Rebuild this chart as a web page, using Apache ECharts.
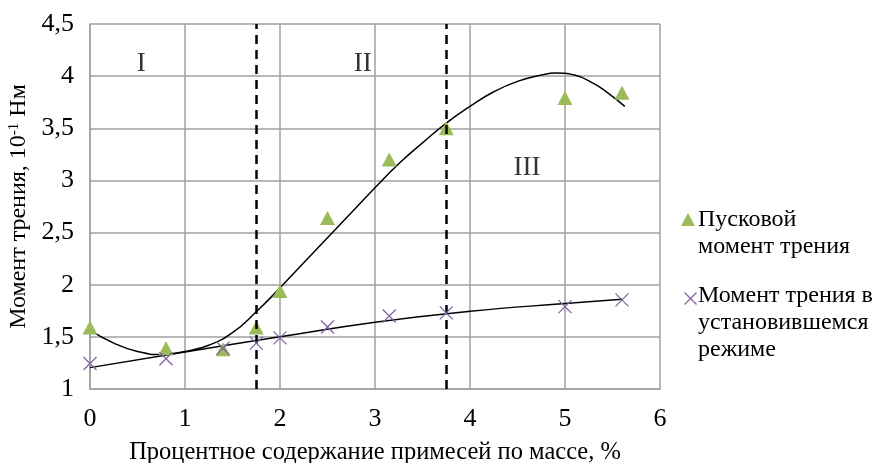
<!DOCTYPE html>
<html>
<head>
<meta charset="utf-8">
<script src="https://cdn.jsdelivr.net/npm/echarts@6/dist/echarts.min.js"></script>
<style>
  html, body { margin: 0; padding: 0; background: #fff; }
  #chart { width: 878px; height: 463px; }
</style>
</head>
<body>
<div id="chart"></div>
<script>
// measured points
const xs = [0, 0.8, 1.4, 1.75, 2, 2.5, 3.15, 3.75, 5, 5.6]
const startTorque = [1.59, 1.39, 1.38, 1.59, 1.94, 2.64, 3.2, 3.5, 3.79, 3.84]
const steadyTorque = [1.245, 1.29, 1.39, 1.44, 1.49, 1.595, 1.70, 1.73, 1.79, 1.855]

// trend lines
const startTrendX = [0, 0.25, 0.5, 0.75, 1, 1.25, 1.5, 1.75, 2, 2.25, 2.5, 2.75, 3, 3.25, 3.5, 3.75, 4, 4.25, 4.5, 4.75, 4.9, 5.1, 5.3, 5.45, 5.63]
const startTrendY = [1.565, 1.44, 1.36, 1.33, 1.36, 1.42, 1.54, 1.74, 1.97, 2.21, 2.45, 2.69, 2.93, 3.16, 3.36, 3.55, 3.71, 3.85, 3.95, 4.01, 4.03, 4.01, 3.93, 3.84, 3.71]
const steadyTrendX = [0, 1, 2, 3, 4, 5, 5.6]
const steadyTrendY = [1.205, 1.355, 1.5, 1.64, 1.745, 1.82, 1.86]

// zone borders and zone names
const zoneBorders = [1.75, 3.75]
const zoneLabels = [[0.54, 4.12, 'I'], [2.87, 4.12, 'II'], [4.6, 3.12, 'III']]

const legendNames = ['Пусковой\nмомент трения', 'Момент трения в\nустановившемся\nрежиме']

const FONT = '"Liberation Serif", "DejaVu Serif", serif'
const GREEN = '#9BBB59'
const PURPLE = '#8064A2'
const GRID = '#a0a0a0'

const pairs = (a, b) => a.map((v, i) => [v, b[i]])

const chart = echarts.init(document.getElementById('chart'))

chart.setOption({
  backgroundColor: '#fff',
  animation: false,
  textStyle: { fontFamily: FONT },
  grid: { left: 90, right: 218, top: 24, bottom: 74, containLabel: false, outerBoundsMode: 'none' },
  xAxis: {
    type: 'value', min: 0, max: 6, interval: 1,
    name: 'Процентное содержание примесей по массе, %',
    nameLocation: 'middle', nameGap: 51,
    nameTextStyle: { fontFamily: FONT, fontSize: 24.5, color: '#000' },
    axisLine: { show: true, lineStyle: { color: GRID, width: 1.5 } },
    axisTick: { show: false },
    axisLabel: { fontFamily: FONT, fontSize: 26, color: '#000', margin: 17 },
    splitLine: { show: true, lineStyle: { color: GRID, width: 1.5 } },
  },
  yAxis: {
    type: 'value', min: 1, max: 4.5, interval: 0.5,
    name: 'Момент трения, 10{sup|-1} Нм',
    nameLocation: 'middle', nameGap: 58,
    nameTextStyle: {
      fontFamily: FONT, fontSize: 24, color: '#000',
      rich: { sup: { fontFamily: FONT, fontSize: 15, color: '#000', verticalAlign: 'top' } },
    },
    axisLine: { show: true, lineStyle: { color: GRID, width: 1.5 } },
    axisTick: { show: false },
    axisLabel: {
      fontFamily: FONT, fontSize: 26, color: '#000', margin: 16,
      formatter: v => String(v).replace('.', ','),
    },
    splitLine: { show: true, lineStyle: { color: GRID, width: 1.5 } },
  },
  series: [
    {
      name: 'trendStart', type: 'line', smooth: true, showSymbol: false, silent: true,
      data: pairs(startTrendX, startTrendY),
      lineStyle: { color: '#000', width: 1.5 },
      z: 3,
      markLine: {
        silent: true, symbol: 'none', label: { show: false },
        lineStyle: { color: '#000', width: 2.5, type: [9, 6] },
        data: zoneBorders.map(x => ({ xAxis: x })),
      },
    },
    {
      name: 'trendSteady', type: 'line', smooth: true, showSymbol: false, silent: true,
      data: pairs(steadyTrendX, steadyTrendY),
      lineStyle: { color: '#000', width: 1.5 },
      z: 3,
    },
    {
      name: legendNames[0], type: 'scatter', symbol: 'triangle', symbolSize: [15, 14],
      data: pairs(xs, startTorque),
      itemStyle: { color: GREEN, opacity: 1 },
      z: 4,
    },
    {
      name: legendNames[1], type: 'scatter', symbol: 'path://M0,0L10,10M10,0L0,10', symbolSize: 13,
      data: pairs(xs, steadyTorque),
      itemStyle: { color: 'none', borderColor: PURPLE, borderWidth: 1.3, opacity: 1 },
      z: 5,
    },
    {
      name: 'zones', type: 'scatter', symbolSize: 1, silent: true,
      data: zoneLabels,
      itemStyle: { color: 'rgba(0,0,0,0)' },
      label: {
        show: true, position: 'inside', formatter: p => p.value[2],
        fontFamily: FONT, fontSize: 27, color: '#000',
      },
    },
  ],
  graphic: [
    {
      type: 'polygon', left: 681, top: 213,
      shape: { points: [[7, 0], [14, 13], [0, 13]] },
      style: { fill: GREEN },
    },
    {
      type: 'text', left: 698, top: 206,
      style: { text: legendNames[0], font: '24px ' + FONT, fill: '#000', lineHeight: 27 },
    },
    {
      type: 'group', left: 682, top: 290,
      children: [
        { type: 'line', shape: { x1: 0, y1: 0, x2: 12, y2: 12 }, style: { stroke: PURPLE, lineWidth: 1.3 } },
        { type: 'line', shape: { x1: 12, y1: 0, x2: 0, y2: 12 }, style: { stroke: PURPLE, lineWidth: 1.3 } },
      ],
    },
    {
      type: 'text', left: 698, top: 282,
      style: { text: legendNames[1], font: '24px ' + FONT, fill: '#000', lineHeight: 27 },
    },
  ],
})
</script>
</body>
</html>
